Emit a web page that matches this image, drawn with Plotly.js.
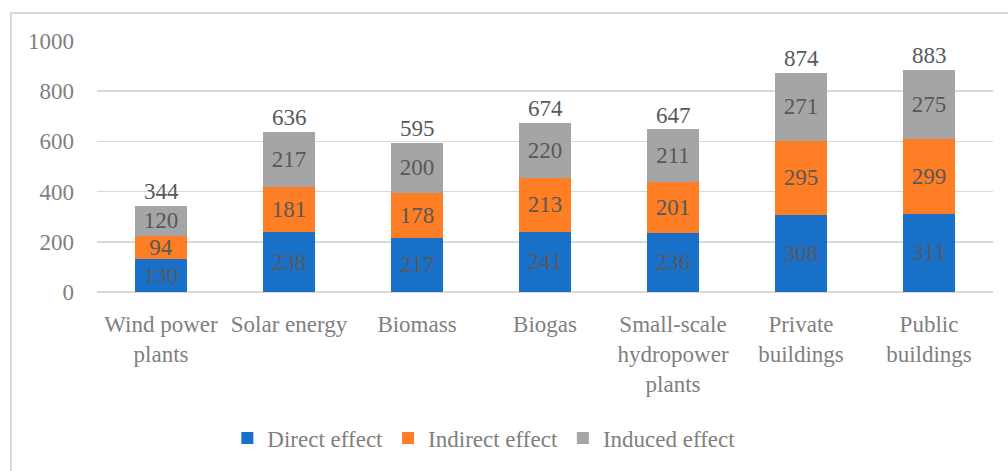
<!DOCTYPE html>
<html>
<head>
<meta charset="utf-8">
<script src="https://cdn.plot.ly/plotly-3.0.1.min.js"></script>
<style>
html,body{margin:0;padding:0;background:#fff;}
#chart{width:1008px;height:471px;}
</style>
</head>
<body>
<div id="chart"></div>
<script>
var categories = ["Wind power<br>plants", "Solar energy", "Biomass", "Biogas", "Small-scale<br>hydropower<br>plants", "Private<br>buildings", "Public<br>buildings"];
var directEffect = [130, 238, 217, 241, 236, 308, 311];
var indirectEffect = [94, 181, 178, 213, 201, 295, 299];
var inducedEffect = [120, 217, 200, 220, 211, 271, 275];
var totals = [344, 636, 595, 674, 647, 874, 883];
var yTicks = [0, 200, 400, 600, 800, 1000];

var FONT = "Liberation Serif";
var labelColor = "#595959";
var axisColor = "#7f7f7f";

function barTrace(name, vals, color) {
  return {
    type: "bar",
    name: name,
    x: categories,
    y: vals,
    marker: {color: color},
    text: vals.map(String),
    textposition: "inside",
    insidetextanchor: "middle",
    textangle: 0,
    constraintext: "none",
    cliponaxis: false,
    textfont: {family: FONT, size: 23, color: labelColor},
    hoverinfo: "x+y+name"
  };
}

var data = [
  barTrace("Direct effect", directEffect, "#1870c8"),
  barTrace("Indirect effect", indirectEffect, "#fd7e24"),
  barTrace("Induced effect", inducedEffect, "#a5a5a5")
];

var annotations = categories.map(function (c, i) {
  return {
    x: c, y: totals[i], xref: "x", yref: "y",
    text: String(totals[i]),
    showarrow: false, yanchor: "bottom",
    yshift: 0,
    font: {family: FONT, size: 23, color: labelColor}
  };
});

var layout = {
  width: 1008, height: 471,
  margin: {l: 97, r: 15, t: 41, b: 179},
  paper_bgcolor: "#ffffff",
  plot_bgcolor: "#ffffff",
  barmode: "stack",
  bargap: 0.6,
  font: {family: FONT, size: 23, color: axisColor},
  showlegend: true,
  legend: {
    orientation: "h",
    xref: "container", yref: "container",
    x: 0.48, xanchor: "center",
    y: 0.07, yanchor: "middle",
    font: {family: FONT, size: 23, color: axisColor},
    traceorder: "normal"
  },
  xaxis: {
    type: "category",
    tickangle: 0,
    ticks: "",
    showline: false,
    showgrid: false,
    zeroline: false,
    tickfont: {family: FONT, size: 23, color: axisColor},
    ticklabelstandoff: 16,
    fixedrange: true
  },
  yaxis: {
    range: [0, 1000],
    tickvals: yTicks,
    ticktext: yTicks.map(String),
    showline: false,
    showgrid: true,
    gridcolor: "#d9d9d9",
    gridwidth: 1.5,
    zeroline: true,
    zerolinecolor: "#d9d9d9",
    zerolinewidth: 1.5,
    tickfont: {family: FONT, size: 23, color: axisColor},
    ticklabelstandoff: 22,
    fixedrange: true
  },
  annotations: annotations,
  shapes: [{
    type: "rect", xref: "paper", yref: "paper",
    x0: -0.096, x1: 2, y0: -2, y1: 1.1116,
    line: {color: "#d9d9d9", width: 2},
    fillcolor: "rgba(0,0,0,0)",
    layer: "below"
  }]
};

Plotly.newPlot("chart", data, layout, {displayModeBar: false, staticPlot: true});
</script>
</body>
</html>
